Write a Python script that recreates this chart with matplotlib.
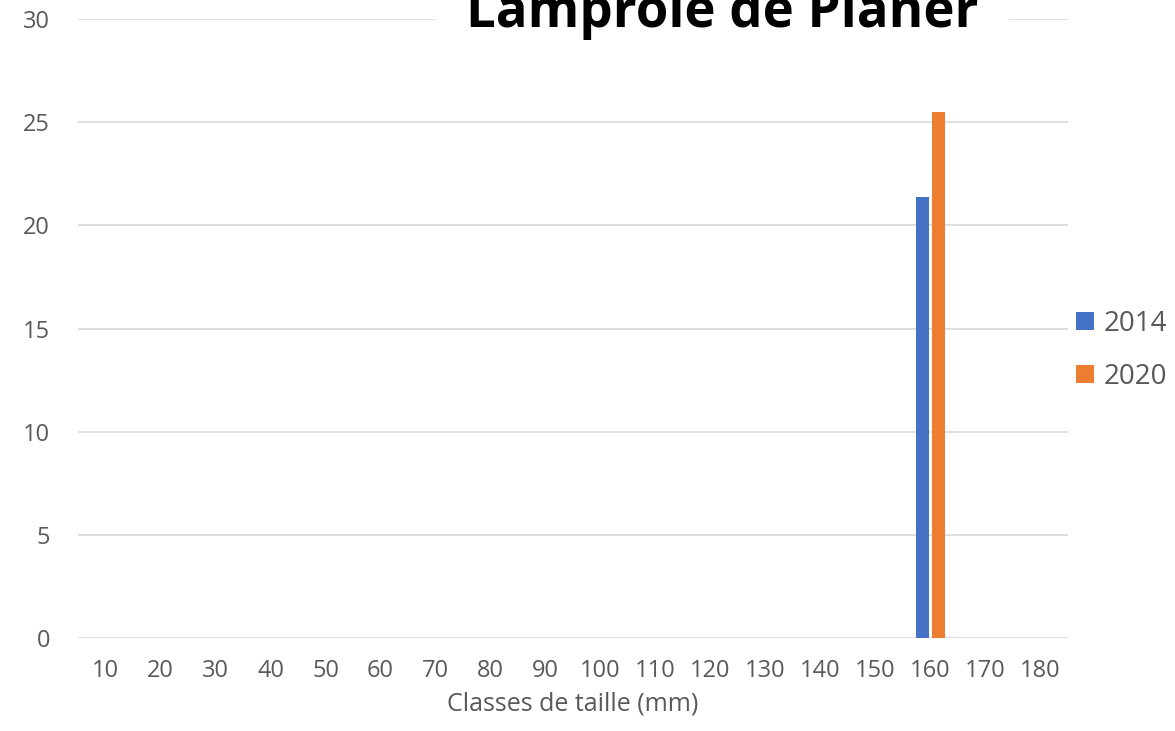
import matplotlib
matplotlib.use("Agg")
import matplotlib.pyplot as plt
import numpy as np
from matplotlib.patches import Patch

categories = ["10", "20", "30", "40", "50", "60", "70", "80", "90", "100",
              "110", "120", "130", "140", "150", "160", "170", "180"]
values_2014 = [0, 0, 0, 0, 0, 0, 0, 0, 0, 0, 0, 0, 0, 0, 0, 21.35, 0, 0]
values_2020 = [0, 0, 0, 0, 0, 0, 0, 0, 0, 0, 0, 0, 0, 0, 0, 25.5, 0, 0]
series_names = ["2014", "2020"]
colors = ["#4472C4", "#ED7D31"]
yticks = [0, 5, 10, 15, 20, 25, 30]

plt.rcParams['font.family'] = ['Open Sans', 'DejaVu Sans']

W, H = 1175, 731
fig = plt.figure(figsize=(W / 100, H / 100), dpi=100)
ax = fig.add_axes([78/W, 1 - 638/H, (1068 - 78)/W, (638 - 19)/H])

x = np.arange(len(categories))
w = 0.24
ax.bar(x - 0.145, values_2014, width=w, color=colors[0], zorder=3)
ax.bar(x + 0.145, values_2020, width=w, color=colors[1], zorder=3)

ax.set_xlim(-0.5, len(categories) - 0.5)
ax.set_ylim(0, 30)
ax.set_yticks(yticks)
ax.set_yticklabels([str(t) for t in yticks])
ax.set_xticks(x)
ax.set_xticklabels(categories)
ax.grid(axis='y', color='#D9D9D9', linewidth=1.2, zorder=0)
for s in ax.spines.values():
    s.set_visible(False)
ax.tick_params(axis='both', length=0, labelsize=17, colors='#595959')
ax.tick_params(axis='y', pad=20)
ax.tick_params(axis='x', pad=15)
ax.set_xlabel("Classes de taille (mm)", fontsize=18, color='#595959', labelpad=6)

fig.text(722/W, 1 - 27/H, "Lamproie de Planer", fontsize=38, fontweight='bold',
         ha='center', va='baseline', color='black',
         bbox=dict(facecolor='white', edgecolor='none', pad=22))

handles = [Patch(facecolor=colors[0], label=series_names[0]),
           Patch(facecolor=colors[1], label=series_names[1])]

LEG_FS = 20
target_pitch = 53.0
target_left = 1076.0
target_y0 = 321.0  # centre of first row (pixels from top)


def make_legend(spacing, ax_x, ax_y):
    return fig.legend(handles=handles, loc='center left', bbox_to_anchor=(ax_x, ax_y),
                      frameon=False, fontsize=LEG_FS, labelcolor='#595959',
                      handlelength=0.65, handleheight=0.65, handletextpad=0.35,
                      labelspacing=spacing)


spacing = 0.55
anc_x, anc_y = 1051 / W, 1 - 347.5 / H
leg = make_legend(spacing, anc_x, anc_y)
fig.canvas.draw()
r = fig.canvas.get_renderer()
p = leg.get_patches()
c0 = (p[0].get_window_extent(r).y0 + p[0].get_window_extent(r).y1) / 2
c1 = (p[1].get_window_extent(r).y0 + p[1].get_window_extent(r).y1) / 2
pitch = c0 - c1
spacing += (target_pitch - pitch) / (LEG_FS * 100 / 72)
leg.remove()
leg = make_legend(spacing, anc_x, anc_y)
fig.canvas.draw()
r = fig.canvas.get_renderer()
p = leg.get_patches()
e0 = p[0].get_window_extent(r)
dx = target_left - e0.x0
dy = (H - target_y0) - (e0.y0 + e0.y1) / 2
leg.remove()
leg = make_legend(spacing, anc_x + dx / W, anc_y + dy / H)

fig.savefig("out.png", dpi=100)
